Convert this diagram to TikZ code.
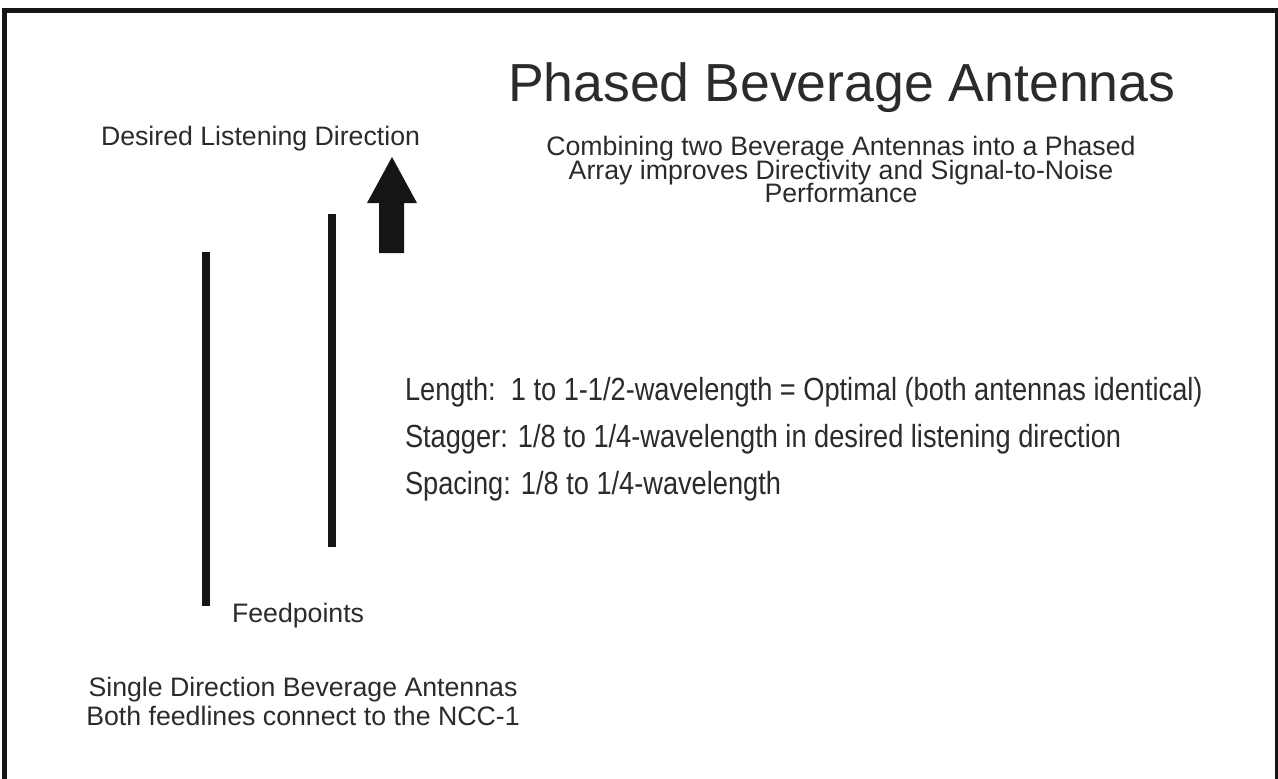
\documentclass[tikz,border=0pt]{standalone}
\usepackage{fontspec}
\setmainfont{Liberation Sans}
\newfontfamily\narrowfont{Liberation Sans}[FakeStretch=0.85]
\definecolor{txt}{HTML}{2B2B2B}
\definecolor{ink}{HTML}{151515}
\tikzset{
  lbl/.style={inner sep=0pt, outer sep=0pt, text=txt, font=\fontsize{26.7}{30}\selectfont},
  ttl/.style={inner sep=0pt, outer sep=0pt, text=txt, font=\fontsize{53.6}{60}\selectfont},
  lst/.style={inner sep=0pt, outer sep=0pt, text=txt, font=\narrowfont\fontsize{32}{36}\selectfont},
  antenna/.style={draw=ink, line width=8pt},
  frame/.style={draw=ink, line width=5pt}
}
\begin{document}
\begin{tikzpicture}[x=1pt,y=-1pt]
\useasboundingbox (0,0) rectangle (1278,779);
\fill[white] (0,0) rectangle (1278,779);
\begin{scope}
\clip (0,0) rectangle (1278,779);
\draw[frame] (4.5,10) rectangle (1277,800);
\end{scope}
% title and texts
\node[ttl, anchor=base west] (title) at (508,101) {Phased Beverage Antennas};
\node[lbl, anchor=base west] (desired) at (101,145) {Desired Listening Direction};
\node[lbl, anchor=base] (comb1) at (841,155) {Combining two Beverage Antennas into a Phased};
\node[lbl, anchor=base] (comb2) at (841,179) {Array improves Directivity and Signal-to-Noise};
\node[lbl, anchor=base] (comb3) at (841,202) {Performance};
\node[lst, anchor=base west] (length) at (405,400) {Length:\ \ 1 to 1-1/2-wavelength = Optimal (both antennas identical)};
\node[lst, anchor=base west] (stagger) at (405,447) {Stagger: 1/8 to 1/4-wavelength in desired listening direction};
\node[lst, anchor=base west] (spacing) at (405,494) {Spacing: 1/8 to 1/4-wavelength};
\node[lbl, anchor=base west] (feed) at (232,622) {Feedpoints};
\node[lbl, anchor=base] (single) at (303,696) {Single Direction Beverage Antennas};
\node[lbl, anchor=base] (both) at (303,725) {Both feedlines connect to the NCC-1};
% antennas
\coordinate (a1top) at (206,252);
\coordinate (a1bot) at (206,606);
\coordinate (a2top) at (332,214);
\coordinate (a2bot) at (332,547);
\draw[antenna] (a1top) -- (a1bot);
\draw[antenna] (a2top) -- (a2bot);
% direction arrow
\fill[ink] (379,253) -- (379,203) -- (367,203) -- (392,157) -- (417,203) -- (404,203) -- (404,253) -- cycle;
\end{tikzpicture}
\end{document}
